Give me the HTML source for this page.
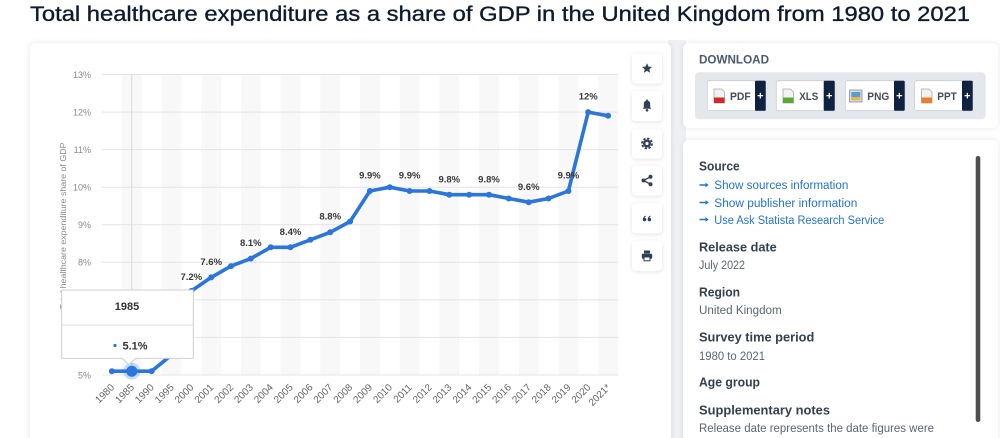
<!DOCTYPE html>
<html>
<head>
<meta charset="utf-8">
<style>
  html,body{margin:0;padding:0;background:#ffffff;}
  body{width:1000px;height:438px;overflow:hidden;font-family:"Liberation Sans",sans-serif;}
  svg{display:block;}
  text{font-family:"Liberation Sans",sans-serif;}
</style>
</head>
<body>
<svg width="1000" height="438" viewBox="0 0 1000 438" xmlns="http://www.w3.org/2000/svg">
  <defs>
    <filter id="sh" x="-10%" y="-10%" width="120%" height="120%">
      <feDropShadow dx="0" dy="0" stdDeviation="3" flood-color="#1a2a40" flood-opacity="0.10"/>
    </filter>
    <filter id="sh2" x="-30%" y="-30%" width="160%" height="160%">
      <feDropShadow dx="0" dy="1" stdDeviation="2" flood-color="#1a2a40" flood-opacity="0.12"/>
    </filter>
  </defs>

  <!-- background -->
  <rect x="0" y="0" width="1000" height="438" fill="#ffffff"/>
  <rect x="668" y="40" width="18" height="398" fill="#eef0f3"/>

  <!-- Title -->
  <text x="30" y="21" font-size="21" fill="#0d1b2e" stroke="#0d1b2e" stroke-width="0.35" textLength="940" lengthAdjust="spacingAndGlyphs">Total healthcare expenditure as a share of GDP in the United Kingdom from 1980 to 2021</text>

  <!-- Main card -->
  <rect x="30" y="43" width="641" height="410" rx="6" fill="#ffffff" filter="url(#sh)"/>

  <!-- Right cards -->
  <rect x="683" y="43" width="315" height="85" rx="6" fill="#ffffff" filter="url(#sh)"/>
  <rect x="683" y="140" width="315" height="310" rx="6" fill="#ffffff" filter="url(#sh)"/>

  <!-- Chart bands -->
  <g fill="#f8f8f8">
    <rect x="121.85" y="74.5" width="19.85" height="300.5"/>
    <rect x="161.54" y="74.5" width="19.85" height="300.5"/>
    <rect x="201.23" y="74.5" width="19.85" height="300.5"/>
    <rect x="240.92" y="74.5" width="19.85" height="300.5"/>
    <rect x="280.62" y="74.5" width="19.85" height="300.5"/>
    <rect x="320.31" y="74.5" width="19.85" height="300.5"/>
    <rect x="360.00" y="74.5" width="19.85" height="300.5"/>
    <rect x="399.69" y="74.5" width="19.85" height="300.5"/>
    <rect x="439.38" y="74.5" width="19.85" height="300.5"/>
    <rect x="479.08" y="74.5" width="19.85" height="300.5"/>
    <rect x="518.77" y="74.5" width="19.85" height="300.5"/>
    <rect x="558.46" y="74.5" width="19.85" height="300.5"/>
    <rect x="598.15" y="74.5" width="19.85" height="300.5"/>
  </g>

  <!-- Gridlines -->
  <g stroke="#e4e4e4" stroke-width="1">
    <line x1="102" y1="74.5" x2="618" y2="74.5"/>
    <line x1="102" y1="112.1" x2="618" y2="112.1"/>
    <line x1="102" y1="149.6" x2="618" y2="149.6"/>
    <line x1="102" y1="187.2" x2="618" y2="187.2"/>
    <line x1="102" y1="224.7" x2="618" y2="224.7"/>
    <line x1="102" y1="262.3" x2="618" y2="262.3"/>
    <line x1="102" y1="299.9" x2="618" y2="299.9"/>
    <line x1="102" y1="337.4" x2="618" y2="337.4"/>
    <line x1="102" y1="375" x2="618" y2="375"/>
  </g>
  <!-- crosshair -->
  <line x1="131.77" y1="74.5" x2="131.77" y2="375" stroke="#d9d9d9" stroke-width="1"/>

  <!-- Y tick labels -->
  <g font-size="9" fill="#8a8a8a" text-anchor="end">
    <text x="91" y="77.8">13%</text>
    <text x="91" y="115.4">12%</text>
    <text x="91" y="152.9">11%</text>
    <text x="91" y="190.5">10%</text>
    <text x="91" y="228">9%</text>
    <text x="91" y="265.6">8%</text>
    <text x="91" y="303.2">7%</text>
    <text x="91" y="340.7">6%</text>
    <text x="91" y="378.3">5%</text>
  </g>

  <!-- Y axis title -->
  <text transform="translate(66,226) rotate(-90)" font-size="8.5" fill="#8a8a8a" text-anchor="middle" textLength="167" lengthAdjust="spacingAndGlyphs">Total healthcare expenditure share of GDP</text>

  <!-- X labels -->
  <g font-size="10" fill="#666666" text-anchor="end">
    <text transform="translate(114.9,388) rotate(-45)">1980</text>
    <text transform="translate(134.8,388) rotate(-45)">1985</text>
    <text transform="translate(154.6,388) rotate(-45)">1990</text>
    <text transform="translate(174.5,388) rotate(-45)">1995</text>
    <text transform="translate(194.3,388) rotate(-45)">2000</text>
    <text transform="translate(214.2,388) rotate(-45)">2001</text>
    <text transform="translate(234.0,388) rotate(-45)">2002</text>
    <text transform="translate(253.8,388) rotate(-45)">2003</text>
    <text transform="translate(273.7,388) rotate(-45)">2004</text>
    <text transform="translate(293.5,388) rotate(-45)">2005</text>
    <text transform="translate(313.4,388) rotate(-45)">2006</text>
    <text transform="translate(333.2,388) rotate(-45)">2007</text>
    <text transform="translate(353.1,388) rotate(-45)">2008</text>
    <text transform="translate(372.9,388) rotate(-45)">2009</text>
    <text transform="translate(392.8,388) rotate(-45)">2010</text>
    <text transform="translate(412.6,388) rotate(-45)">2011</text>
    <text transform="translate(432.5,388) rotate(-45)">2012</text>
    <text transform="translate(452.3,388) rotate(-45)">2013</text>
    <text transform="translate(472.2,388) rotate(-45)">2014</text>
    <text transform="translate(492.0,388) rotate(-45)">2015</text>
    <text transform="translate(511.8,388) rotate(-45)">2016</text>
    <text transform="translate(531.7,388) rotate(-45)">2017</text>
    <text transform="translate(551.5,388) rotate(-45)">2018</text>
    <text transform="translate(571.4,388) rotate(-45)">2019</text>
    <text transform="translate(591.2,388) rotate(-45)">2020</text>
    <text transform="translate(611.1,388) rotate(-45)">2021*</text>
  </g>

  <!-- Series line -->
  <polyline fill="none" stroke="#2a76dc" stroke-width="3.6" stroke-linejoin="round" stroke-linecap="round"
    points="111.9,371.2 131.8,371.2 151.6,371.2 171.5,355 191.3,291 211.2,277.4 231,266.1 250.8,258.6 270.7,247.3 290.5,247.3 310.4,239.8 330.2,232.3 350.1,221.5 369.9,191 389.8,187.2 409.6,191 429.5,191 449.3,194.7 469.2,194.7 489,194.7 508.8,198.5 528.7,202.2 548.5,198.5 568.4,191 588.2,112.1 608.1,115.8"/>
  <g fill="#2a76dc">
    <circle cx="111.9" cy="371.2" r="3"/>
    <circle cx="151.6" cy="371.2" r="3"/>
    <circle cx="171.5" cy="355" r="3"/>
    <circle cx="191.3" cy="291" r="3"/>
    <circle cx="211.2" cy="277.4" r="3"/>
    <circle cx="231" cy="266.1" r="3"/>
    <circle cx="250.8" cy="258.6" r="3"/>
    <circle cx="270.7" cy="247.3" r="3"/>
    <circle cx="290.5" cy="247.3" r="3"/>
    <circle cx="310.4" cy="239.8" r="3"/>
    <circle cx="330.2" cy="232.3" r="3"/>
    <circle cx="350.1" cy="221.5" r="3"/>
    <circle cx="369.9" cy="191" r="3"/>
    <circle cx="389.8" cy="187.2" r="3"/>
    <circle cx="409.6" cy="191" r="3"/>
    <circle cx="429.5" cy="191" r="3"/>
    <circle cx="449.3" cy="194.7" r="3"/>
    <circle cx="469.2" cy="194.7" r="3"/>
    <circle cx="489" cy="194.7" r="3"/>
    <circle cx="508.8" cy="198.5" r="3"/>
    <circle cx="528.7" cy="202.2" r="3"/>
    <circle cx="548.5" cy="198.5" r="3"/>
    <circle cx="568.4" cy="191" r="3"/>
    <circle cx="588.2" cy="112.1" r="3"/>
    <circle cx="608.1" cy="115.8" r="3"/>
  </g>
  <!-- hovered point -->
  <circle cx="131.8" cy="371.2" r="8.5" fill="#2a76dc" fill-opacity="0.25"/>
  <circle cx="131.8" cy="371.2" r="5.5" fill="#2a76dc"/>

  <!-- Data labels -->
  <g font-size="9.5" font-weight="bold" fill="#3a3a3a" text-anchor="middle">
    <text x="191.3" y="280">7.2%</text>
    <text x="211.2" y="265">7.6%</text>
    <text x="250.8" y="246">8.1%</text>
    <text x="290.5" y="235">8.4%</text>
    <text x="330.2" y="219.5">8.8%</text>
    <text x="369.9" y="178.5">9.9%</text>
    <text x="409.6" y="178.5">9.9%</text>
    <text x="449.3" y="182.5">9.8%</text>
    <text x="489" y="182.5">9.8%</text>
    <text x="528.7" y="190">9.6%</text>
    <text x="568.4" y="178.5">9.9%</text>
    <text x="588.2" y="99.5">12%</text>
  </g>

  <!-- Tooltip -->
  <g>
    <rect x="61.7" y="290" width="131.6" height="68.3" fill="#ffffff" stroke="#cfcfcf" stroke-width="1"/>
    <polygon points="122,357.8 136,357.8 129,364.5" fill="#ffffff"/>
    <polyline points="122,358.3 129,364.5 136,358.3" fill="none" stroke="#cfcfcf" stroke-width="1"/>
    <text x="127" y="310" font-size="11" font-weight="bold" fill="#333333" text-anchor="middle">1985</text>
    <line x1="62.2" y1="325" x2="192.8" y2="325" stroke="#dddddd" stroke-width="1"/>
    <circle cx="115" cy="345.5" r="1.6" fill="#2a76dc"/>
    <text x="122.5" y="349.5" font-size="11" font-weight="bold" fill="#333333">5.1%</text>
  </g>

  <!-- Side icon buttons -->
  <g fill="#ffffff" filter="url(#sh2)">
    <rect x="632" y="53.5" width="30" height="30" rx="4"/>
    <rect x="632" y="91" width="30" height="30" rx="4"/>
    <rect x="632" y="128.5" width="30" height="30" rx="4"/>
    <rect x="632" y="165.5" width="30" height="30" rx="4"/>
    <rect x="632" y="203.3" width="30" height="30" rx="4"/>
    <rect x="632" y="240.7" width="30" height="30" rx="4"/>
  </g>
  <g fill="#2f4159" stroke="none">
    <!-- star -->
    <polygon points="647,63.3 648.5,66.6 652,66.9 649.3,69.2 650.1,72.7 647,70.9 643.9,72.7 644.7,69.2 642,66.9 645.5,66.6"/>
    <!-- bell -->
    <path d="M642.8,108.8 L651.2,108.8 L650.2,107.3 L650.2,104 Q650.2,100.6 647,100.6 Q643.8,100.6 643.8,104 L643.8,107.3 Z"/>
    <circle cx="647" cy="110.3" r="1.3"/>
    <circle cx="647" cy="100.3" r="0.9"/>
    <!-- gear -->
    <circle cx="647" cy="143.5" r="5" fill="none" stroke="#2f4159" stroke-width="1.8" stroke-dasharray="2.3 1.62"/>
    <circle cx="647" cy="143.5" r="4"/>
    <circle cx="647" cy="143.5" r="1.6" fill="#ffffff"/>
    <!-- share -->
    <line x1="643.5" y1="180.5" x2="650.5" y2="176.8" stroke="#2f4159" stroke-width="1.3"/>
    <line x1="643.5" y1="180.5" x2="650.5" y2="184.2" stroke="#2f4159" stroke-width="1.3"/>
    <circle cx="643.5" cy="180.5" r="2"/>
    <circle cx="650.5" cy="176.8" r="2"/>
    <circle cx="650.5" cy="184.2" r="2"/>
    <!-- quote -->
    <circle cx="644.6" cy="219.6" r="1.7"/>
    <circle cx="649.4" cy="219.6" r="1.7"/>
    <path d="M643,219.4 Q643,216.4 645.6,215.6 L645.8,216.5 Q644.3,217.2 644.4,219 Z"/>
    <path d="M647.8,219.4 Q647.8,216.4 650.4,215.6 L650.6,216.5 Q649.1,217.2 649.2,219 Z"/>
    <!-- print -->
    <rect x="644" y="250.5" width="6" height="3"/>
    <rect x="641.8" y="253.8" width="10.4" height="5" rx="1"/>
    <rect x="644" y="257" width="6" height="3.8" fill="#ffffff" stroke="#2f4159" stroke-width="1"/>
  </g>

  <!-- Download card -->
  <text x="699" y="63.5" font-size="11.5" font-weight="bold" fill="#4a5a6e" textLength="70" lengthAdjust="spacingAndGlyphs">DOWNLOAD</text>
  <rect x="695" y="72.3" width="290.7" height="47" rx="4" fill="#e4e7eb"/>

  <!-- PDF -->
  <rect x="707.3" y="80.7" width="58.4" height="30" rx="2" fill="#ffffff" stroke="#c9cdd3" stroke-width="0.8"/>
  <rect x="755" y="80.7" width="10.7" height="30" rx="1" fill="#0f2240"/>
  <text x="760.3" y="99.5" font-size="11" font-weight="bold" fill="#ffffff" text-anchor="middle">+</text>
  <path d="M714,89 L721.5,89 L724.5,92 L724.5,103 L714,103 Z" fill="#f2f2f2" stroke="#a9a9a9" stroke-width="0.8"/>
  <rect x="714" y="97.5" width="10.5" height="5.5" fill="#d22a2a"/>
  <text x="730" y="100" font-size="11" font-weight="bold" fill="#454d58" textLength="20.7" lengthAdjust="spacingAndGlyphs">PDF</text>

  <!-- XLS -->
  <rect x="776.3" y="80.7" width="58.4" height="30" rx="2" fill="#ffffff" stroke="#c9cdd3" stroke-width="0.8"/>
  <rect x="823.7" y="80.7" width="11" height="30" rx="1" fill="#0f2240"/>
  <text x="829.2" y="99.5" font-size="11" font-weight="bold" fill="#ffffff" text-anchor="middle">+</text>
  <path d="M783,89 L790.5,89 L793.5,92 L793.5,103 L783,103 Z" fill="#f2f2f2" stroke="#a9a9a9" stroke-width="0.8"/>
  <rect x="783" y="97.5" width="10.5" height="5.5" fill="#5aaa32"/>
  <text x="799.3" y="100" font-size="11" font-weight="bold" fill="#454d58" textLength="19" lengthAdjust="spacingAndGlyphs">XLS</text>

  <!-- PNG -->
  <rect x="845.3" y="80.7" width="59.4" height="30" rx="2" fill="#ffffff" stroke="#c9cdd3" stroke-width="0.8"/>
  <rect x="894" y="80.7" width="10.7" height="30" rx="1" fill="#0f2240"/>
  <text x="899.3" y="99.5" font-size="11" font-weight="bold" fill="#ffffff" text-anchor="middle">+</text>
  <rect x="849.5" y="90" width="12.5" height="12" fill="#d9dde2" stroke="#8a8f96" stroke-width="0.8"/>
  <rect x="851.3" y="92" width="9" height="5" fill="#5b9bd5"/>
  <rect x="851.3" y="97" width="9" height="3.3" fill="#e6b84a"/>
  <text x="867.3" y="100" font-size="11" font-weight="bold" fill="#454d58" textLength="22" lengthAdjust="spacingAndGlyphs">PNG</text>

  <!-- PPT -->
  <rect x="914.7" y="80.7" width="58" height="30" rx="2" fill="#ffffff" stroke="#c9cdd3" stroke-width="0.8"/>
  <rect x="962" y="80.7" width="10.7" height="30" rx="1" fill="#0f2240"/>
  <text x="967.3" y="99.5" font-size="11" font-weight="bold" fill="#ffffff" text-anchor="middle">+</text>
  <path d="M921.5,89 L929,89 L932,92 L932,103 L921.5,103 Z" fill="#f2f2f2" stroke="#a9a9a9" stroke-width="0.8"/>
  <rect x="921.5" y="97.5" width="10.5" height="5.5" fill="#ec7d2a"/>
  <text x="937.3" y="100" font-size="11" font-weight="bold" fill="#454d58" textLength="19.4" lengthAdjust="spacingAndGlyphs">PPT</text>

  <!-- Source card content -->
  <rect x="975.7" y="156" width="4.6" height="266" rx="2.3" fill="#4f4f4f"/>

  <g font-size="13" font-weight="bold" fill="#33414f">
    <text x="699" y="170.5" textLength="40.7" lengthAdjust="spacingAndGlyphs">Source</text>
    <text x="699" y="251.3" textLength="77.7" lengthAdjust="spacingAndGlyphs">Release date</text>
    <text x="699" y="296.3" textLength="41" lengthAdjust="spacingAndGlyphs">Region</text>
    <text x="699" y="341.6" textLength="115.3" lengthAdjust="spacingAndGlyphs">Survey time period</text>
    <text x="699" y="386.6" textLength="61" lengthAdjust="spacingAndGlyphs">Age group</text>
    <text x="699" y="414.3" textLength="131" lengthAdjust="spacingAndGlyphs">Supplementary notes</text>
  </g>

  <g fill="#1f73d1">
    <path d="M699.5,184.3 L705.5,184.3 L705.5,182.6 L708.6,185 L705.5,187.4 L705.5,185.7 L699.5,185.7 Z"/>
    <path d="M699.5,201.8 L705.5,201.8 L705.5,200.1 L708.6,202.5 L705.5,204.9 L705.5,203.2 L699.5,203.2 Z"/>
    <path d="M699.5,218.8 L705.5,218.8 L705.5,217.1 L708.6,219.5 L705.5,221.9 L705.5,220.2 L699.5,220.2 Z"/>
  </g>
  <g font-size="11.5" fill="#1f73d1">
    <text x="714.3" y="189.2" textLength="134" lengthAdjust="spacingAndGlyphs">Show sources information</text>
    <text x="714.3" y="206.8" textLength="143" lengthAdjust="spacingAndGlyphs">Show publisher information</text>
    <text x="714.3" y="223.9" textLength="170" lengthAdjust="spacingAndGlyphs">Use Ask Statista Research Service</text>
  </g>

  <g font-size="11.5" fill="#5b6572">
    <text x="699" y="269.2" textLength="46" lengthAdjust="spacingAndGlyphs">July 2022</text>
    <text x="699" y="314.2" textLength="82.7" lengthAdjust="spacingAndGlyphs">United Kingdom</text>
    <text x="699" y="360.2" textLength="66" lengthAdjust="spacingAndGlyphs">1980 to 2021</text>
    <text x="699" y="432.2" textLength="235" lengthAdjust="spacingAndGlyphs">Release date represents the date figures were</text>
  </g>
</svg>
</body>
</html>
